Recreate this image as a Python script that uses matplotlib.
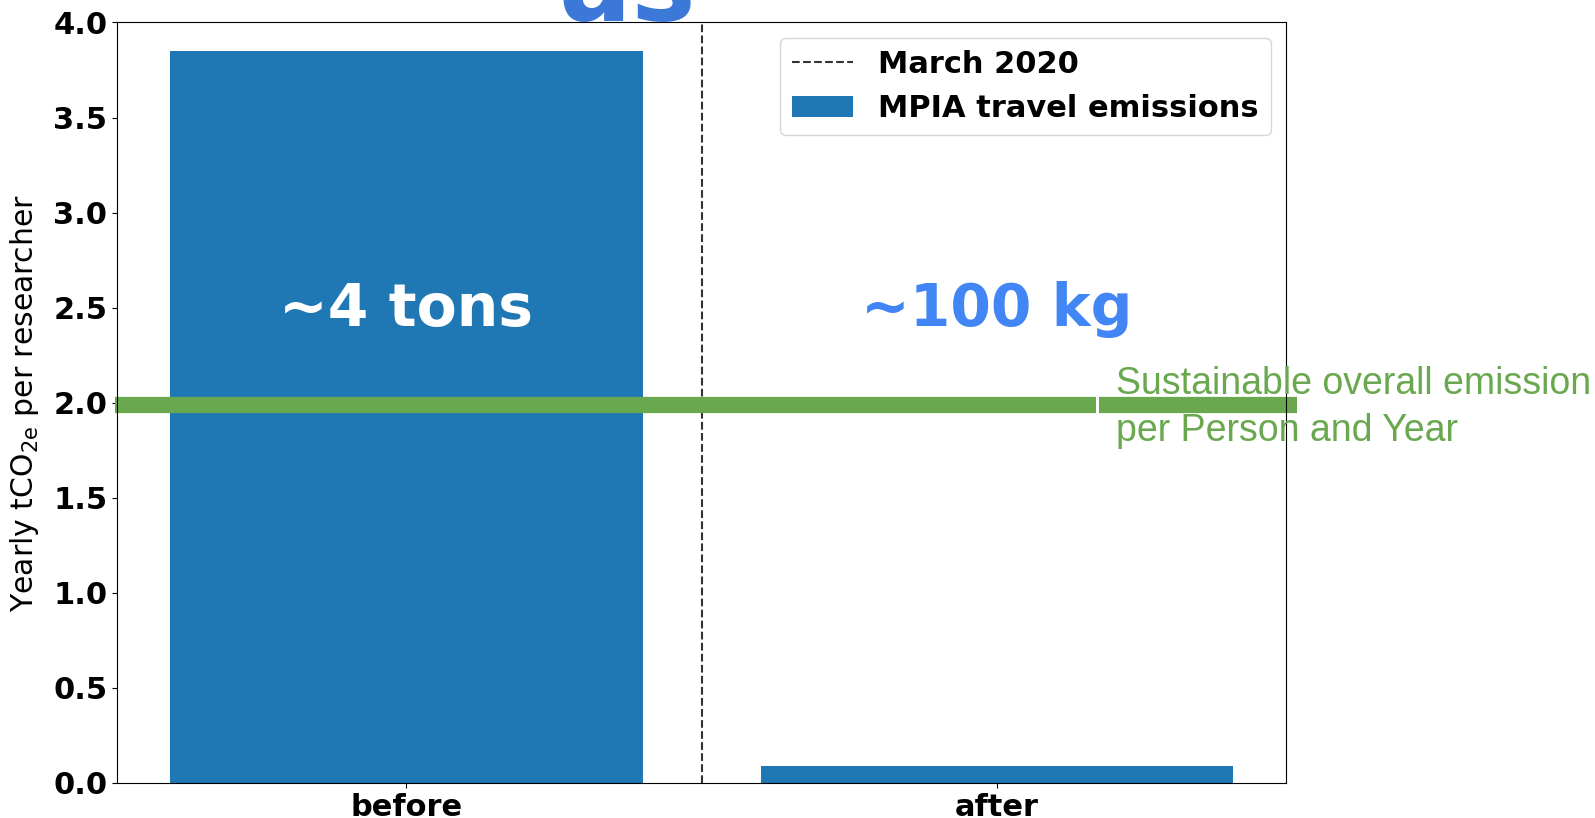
import matplotlib.pyplot as plt

# data
periods = ['before', 'after']
emissions = [3.85, 0.09]          # yearly tCO2e per researcher
march_2020 = 0.5                  # split between the two periods
sustainable = 1.99                # sustainable overall emission per person and year
bar_labels = ['~4 tons', '~100 kg']
label_height = 2.49

fig = plt.figure(figsize=(15.95, 8.18), dpi=100)
ax = fig.add_axes([0.0734, 0.0428, 0.7329, 0.9297])

ax.axvline(march_2020, color='#333333', linestyle='--', linewidth=1.5, label='March 2020')
ax.bar(range(len(periods)), emissions, width=0.8, color='#1f77b4', label='MPIA travel emissions')

ax.set_xlim(-0.49, 1.49)
ax.set_ylim(0, 4.0)
ax.set_xticks(range(len(periods)))
ax.set_xticklabels(periods)
for lab in ax.get_xticklabels() + ax.get_yticklabels():
    lab.set_fontweight('bold')
    lab.set_fontsize(22)
ax.set_ylabel(r'Yearly tCO$_\mathregular{2e}$ per researcher', fontsize=21.5)
ax.yaxis.set_label_coords(-0.065, 0.5)

ax.legend(loc='upper right', prop={'weight': 'bold', 'size': 22}, handlelength=2.0)

# big annotations
ax.text(0, label_height, bar_labels[0], color='white', fontsize=42, fontweight='bold',
        ha='center', va='center')
ax.text(1, label_height, bar_labels[1], color='#4285f4', fontsize=42, fontweight='bold',
        ha='center', va='center')

# green "sustainable" line overlay, running a little past the axes
ax.plot([-0.494, 1.168], [sustainable, sustainable], color='#6aa84f', linewidth=11.7,
        solid_capstyle='butt', clip_on=False)
ax.plot([1.174, 1.509], [sustainable, sustainable], color='#6aa84f', linewidth=11.7,
        solid_capstyle='butt', clip_on=False)
fig.text(0.6995, 0.502, 'Sustainable overall emission\nper Person and Year', color='#6aa84f',
         fontsize=27, family='Liberation Sans', va='center', ha='left', linespacing=1.37)

# cut-off title fragment at the very top
fig.text(0.392, 0.976, 'us', color='#3c78d8', fontsize=78, fontweight='bold',
         ha='center', va='baseline')

fig.savefig('out.png', dpi=100)
